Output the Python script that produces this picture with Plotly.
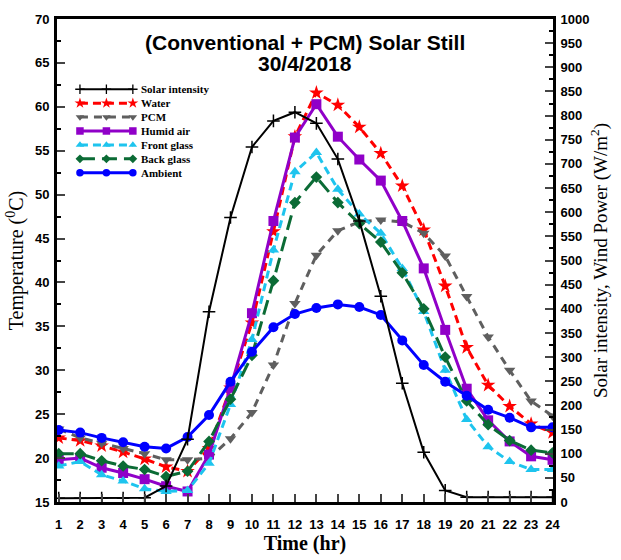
import plotly.graph_objects as go

hours = list(range(1, 25))
solar = [8, 8, 8, 8, 9, 33, 130, 394, 589, 735, 789, 807, 784, 710, 582, 426, 246, 103, 24, 10, 10, 10, 10, 10]
water = [22.3, 22.0, 21.4, 20.7, 19.9, 19.0, 18.5, 21.1, 28.0, 35.4, 45.8, 56.6, 61.6, 60.2, 57.7, 54.7, 51.0, 46.0, 39.6, 32.6, 28.3, 25.9, 23.9, 22.9]
pcm = [23.3, 22.3, 21.7, 21.1, 20.5, 19.8, 19.8, 20.0, 22.2, 25.2, 30.6, 37.6, 43.1, 45.9, 46.9, 47.1, 46.9, 45.6, 43.0, 38.4, 33.8, 30.0, 26.5, 24.8]
humid = [19.8, 20.0, 18.9, 18.3, 17.6, 16.8, 16.2, 20.4, 28.0, 36.5, 47.0, 56.5, 60.3, 56.6, 54.0, 51.6, 47.0, 41.6, 34.6, 27.9, 24.3, 21.9, 20.2, 19.8]
front = [19.1, 19.6, 18.1, 17.4, 16.5, 16.2, 16.3, 19.4, 26.1, 33.5, 43.7, 52.6, 54.8, 50.6, 47.8, 45.6, 41.6, 36.7, 30.0, 24.4, 21.3, 19.6, 18.7, 18.7]
back = [20.5, 20.5, 19.7, 19.1, 18.7, 17.9, 18.5, 21.9, 26.7, 31.7, 40.2, 49.1, 52.0, 49.1, 46.7, 44.6, 41.1, 37.0, 31.5, 26.5, 23.8, 22.0, 20.9, 20.6]
ambient = [23.2, 22.9, 22.3, 21.8, 21.3, 21.1, 22.4, 24.9, 28.7, 32.1, 34.9, 36.4, 37.1, 37.5, 37.2, 36.3, 33.4, 30.6, 28.7, 27.1, 25.5, 24.6, 23.5, 23.5]

series = [
    ("Solar intensity", solar, "y2", "black", 2, "solid", "cross-thin", 9),
    ("Water", water, "y", "#ff0000", 3, "8px,5px", "star", 11),
    ("PCM", pcm, "y", "#5f5f5f", 3, "8px,6px", "triangle-down", 10),
    ("Humid air", humid, "y", "#9000c8", 3, "solid", "square", 10),
    ("Front glass", front, "y", "#1ec4ee", 3, "8px,5px", "triangle-up", 10),
    ("Back glass", back, "y", "#0b6b35", 3, "15px,7px", "diamond", 9),
    ("Ambient", ambient, "y", "#0000ff", 3, "solid", "circle", 10),
]

fig = go.Figure()
for name, vals, yax, color, width, dash, sym, size in series:
    marker = dict(symbol=sym, size=size, color=color)
    if sym == "cross-thin":
        marker["line"] = dict(width=1.5, color=color)
    fig.add_trace(go.Scatter(x=hours, y=vals, name=name, yaxis=yax, mode="lines+markers",
                             line=dict(color=color, width=width, dash=dash), marker=marker,
                             showlegend=False))

# custom compact legend drawn on a pixel-like helper axis pair
plot_l, plot_r, plot_t, plot_b = 57, 554, 15, 508
leg_x = [80, 106.5, 133]
leg_text_x = 139
leg_y0, leg_dy = 86.7, 14.2
for i, (name, vals, yax, color, width, dash, sym, size) in enumerate(series):
    yy = leg_y0 + i * leg_dy
    marker = dict(symbol=sym, size=size * 0.75, color=color)
    if sym == "cross-thin":
        marker["line"] = dict(width=1.3, color=color)
    fig.add_trace(go.Scatter(x=leg_x, y=[yy] * 3, xaxis="x3", yaxis="y3", mode="lines+markers",
                             line=dict(color=color, width=width, dash=dash), marker=marker,
                             showlegend=False, hoverinfo="skip"))
    fig.add_annotation(text=name, xref="x3", yref="y3", x=leg_text_x, y=yy, xanchor="left", yanchor="middle",
                       showarrow=False,
                       font=dict(family="Liberation Serif, Times New Roman", size=11, color="black", weight="bold"))

tickfont = dict(family="Liberation Sans, Arial", size=13, color="black", weight="bold")
serif = "Liberation Serif, Times New Roman"
fig.update_layout(
    width=621, height=560,
    margin=dict(l=plot_l, r=621 - plot_r, t=plot_t, b=560 - plot_b),
    paper_bgcolor="white", plot_bgcolor="white",
    showlegend=False,
    xaxis=dict(range=[0.92, 24.02], tickmode="array", tickvals=hours, ticks="inside", ticklen=8, tickwidth=2,
               showline=True, linewidth=3, linecolor="black", mirror=True, showgrid=False, zeroline=False,
               tickfont=tickfont, ticklabelstandoff=8,
               title=dict(text="Time (hr)", font=dict(family=serif, size=20, color="black", weight="bold"), standoff=2)),
    yaxis=dict(range=[15, 70], dtick=5, ticks="inside", ticklen=8, tickwidth=2,
               minor=dict(dtick=2.5, ticks="inside", ticklen=4, tickwidth=2, tickcolor="black"),
               showline=True, linewidth=3, linecolor="black", showgrid=False, zeroline=False,
               tickfont=tickfont, ticklabelstandoff=2,
               title=dict(text="Temperature (<sup>0</sup>C)", font=dict(family=serif, size=20, color="black"), standoff=6)),
    yaxis2=dict(range=[0, 1000], dtick=50, overlaying="y", side="right", ticks="inside", ticklen=8, tickwidth=2,
                minor=dict(dtick=25, ticks="inside", ticklen=4, tickwidth=2, tickcolor="black"),
                showline=True, linewidth=3, linecolor="black", showgrid=False, zeroline=False,
                tickfont=tickfont, ticklabelstandoff=2,
                title=dict(text="Solar intensity, Wind Power (W/m<sup>2</sup>)", font=dict(family=serif, size=19, color="black"), standoff=6)),
    xaxis3=dict(range=[plot_l, plot_r], overlaying="x", anchor="y3", visible=False, fixedrange=True),
    yaxis3=dict(range=[plot_b, plot_t], overlaying="y", anchor="x3", visible=False, fixedrange=True),
)
title_font = dict(family="Liberation Sans, Arial", size=21, color="black", weight="bold")
fig.add_annotation(text="(Conventional + PCM) Solar Still", xref="paper", yref="paper", x=0.5,
                   y=(plot_b - 39) / (plot_b - plot_t), yanchor="middle", showarrow=False, font=title_font)
fig.add_annotation(text="30/4/2018", xref="paper", yref="paper", x=0.5,
                   y=(plot_b - 60) / (plot_b - plot_t), yanchor="middle", showarrow=False, font=title_font)

fig.write_html("out.html")
